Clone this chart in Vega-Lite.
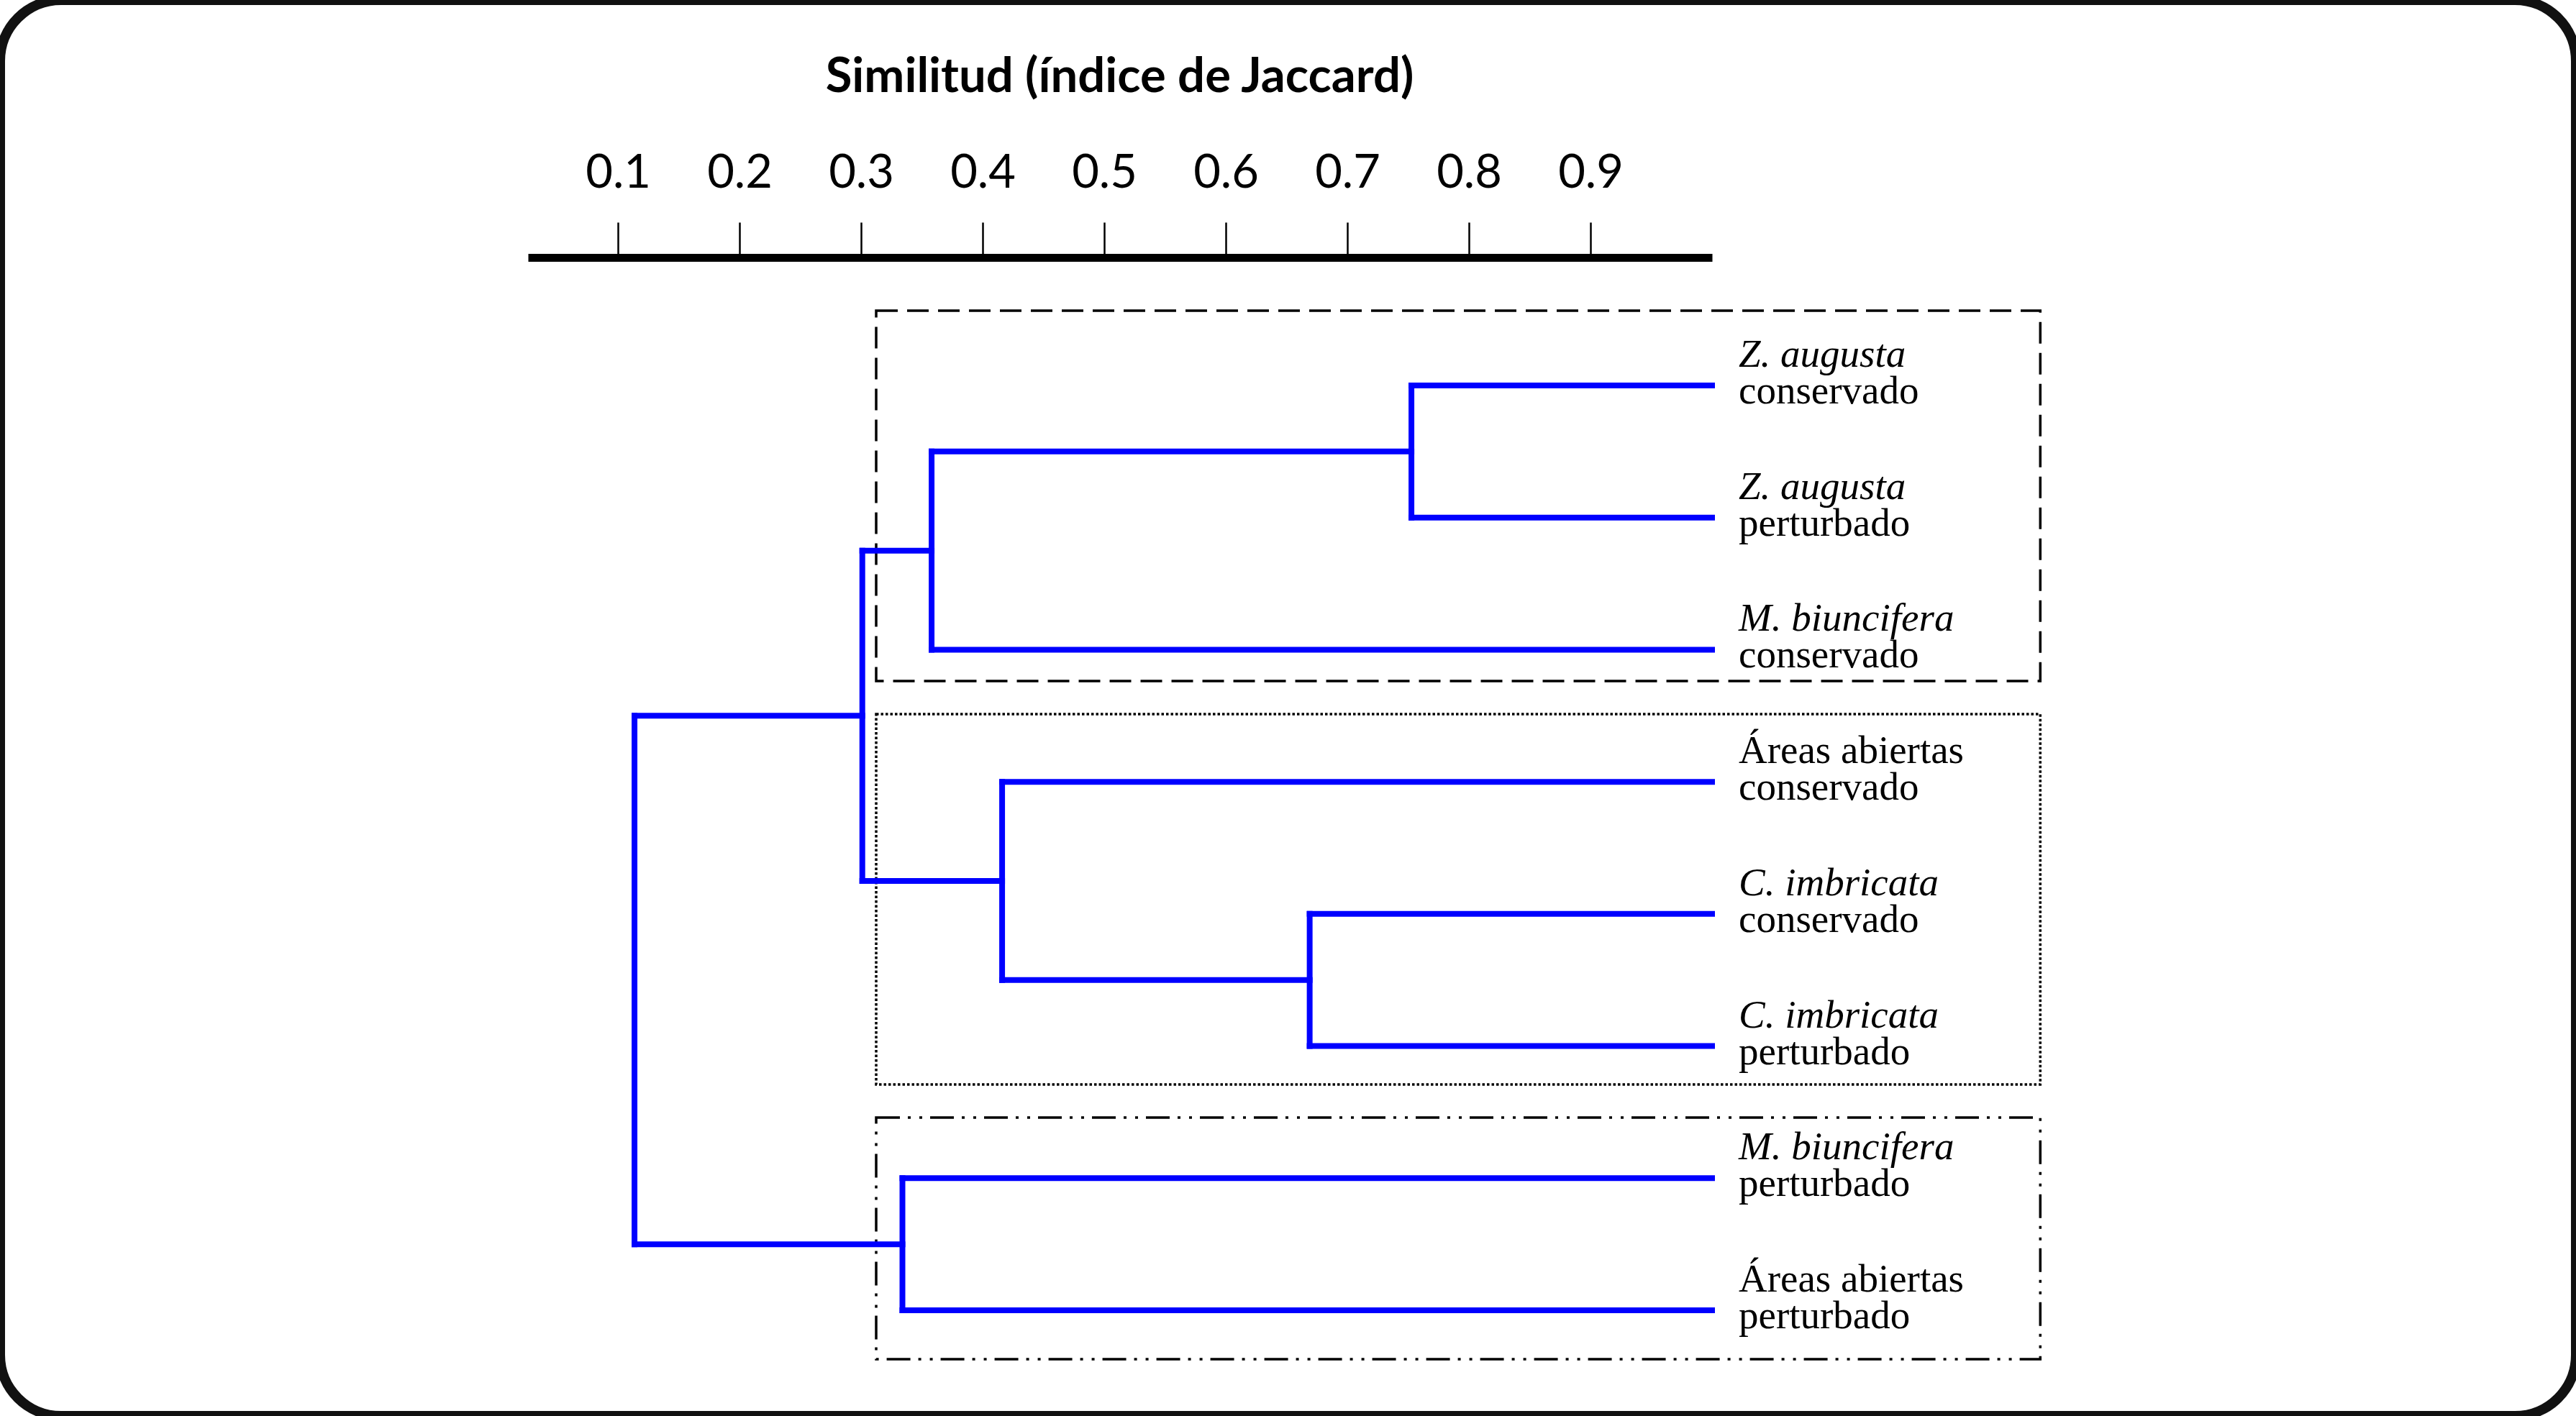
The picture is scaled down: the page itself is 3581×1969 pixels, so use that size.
{
  "$schema": "https://vega.github.io/schema/vega-lite/v6.json",
  "width": 3581,
  "height": 1969,
  "autosize": {"type": "none"},
  "padding": 0,
  "background": "white",
  "config": {
    "view": {"stroke": "#111111", "strokeWidth": 14, "cornerRadius": 85, "fill": "white"}
  },
  "datasets": {
    "segments": [
      {"node": "A", "x1": 0.7527, "x2": 1.0, "y1": 1, "y2": 1},
      {"node": "A", "x1": 0.7527, "x2": 1.0, "y1": 2, "y2": 2},
      {"node": "A", "x1": 0.7527, "x2": 0.7527, "y1": 1, "y2": 2},
      {"node": "B", "x1": 0.358, "x2": 0.7527, "y1": 1.5, "y2": 1.5},
      {"node": "B", "x1": 0.358, "x2": 1.0, "y1": 3, "y2": 3},
      {"node": "B", "x1": 0.358, "x2": 0.358, "y1": 1.5, "y2": 3},
      {"node": "C", "x1": 0.669, "x2": 1.0, "y1": 5, "y2": 5},
      {"node": "C", "x1": 0.669, "x2": 1.0, "y1": 6, "y2": 6},
      {"node": "C", "x1": 0.669, "x2": 0.669, "y1": 5, "y2": 6},
      {"node": "D", "x1": 0.416, "x2": 1.0, "y1": 4, "y2": 4},
      {"node": "D", "x1": 0.416, "x2": 0.669, "y1": 5.5, "y2": 5.5},
      {"node": "D", "x1": 0.416, "x2": 0.416, "y1": 4, "y2": 5.5},
      {"node": "E", "x1": 0.301, "x2": 0.358, "y1": 2.25, "y2": 2.25},
      {"node": "E", "x1": 0.301, "x2": 0.416, "y1": 4.75, "y2": 4.75},
      {"node": "E", "x1": 0.301, "x2": 0.301, "y1": 2.25, "y2": 4.75},
      {"node": "F", "x1": 0.334, "x2": 1.0, "y1": 7, "y2": 7},
      {"node": "F", "x1": 0.334, "x2": 1.0, "y1": 8, "y2": 8},
      {"node": "F", "x1": 0.334, "x2": 0.334, "y1": 7, "y2": 8},
      {"node": "R", "x1": 0.1136, "x2": 0.301, "y1": 3.5, "y2": 3.5},
      {"node": "R", "x1": 0.1136, "x2": 0.334, "y1": 7.5, "y2": 7.5},
      {"node": "R", "x1": 0.1136, "x2": 0.1136, "y1": 3.5, "y2": 7.5}
    ],
    "boxes": [
      {"grupo": "I", "x1": 0.3124, "x2": 1.27, "y1": 0.434, "y2": 3.237},
      {"grupo": "II", "x1": 0.3124, "x2": 1.27, "y1": 3.488, "y2": 6.291},
      {"grupo": "III", "x1": 0.3124, "x2": 1.27, "y1": 6.541, "y2": 8.37}
    ],
    "leaves": [
      {"x1": 1.0, "y1": 1, "taxon": "Z. augusta", "sitio": "conservado", "tipo": "especie"},
      {"x1": 1.0, "y1": 2, "taxon": "Z. augusta", "sitio": "perturbado", "tipo": "especie"},
      {"x1": 1.0, "y1": 3, "taxon": "M. biuncifera", "sitio": "conservado", "tipo": "especie"},
      {"x1": 1.0, "y1": 4, "taxon": "Áreas abiertas", "sitio": "conservado", "tipo": "area"},
      {"x1": 1.0, "y1": 5, "taxon": "C. imbricata", "sitio": "conservado", "tipo": "especie"},
      {"x1": 1.0, "y1": 6, "taxon": "C. imbricata", "sitio": "perturbado", "tipo": "especie"},
      {"x1": 1.0, "y1": 7, "taxon": "M. biuncifera", "sitio": "perturbado", "tipo": "especie"},
      {"x1": 1.0, "y1": 8, "taxon": "Áreas abiertas", "sitio": "perturbado", "tipo": "area"}
    ]
  },
  "encoding": {
    "x": {
      "field": "x1",
      "type": "quantitative",
      "scale": {"domain": [0.026, 1.0], "range": [734, 2380], "nice": false, "zero": false},
      "axis": {
        "orient": "top",
        "offset": -358,
        "values": [0.1, 0.2, 0.3, 0.4, 0.5, 0.6, 0.7, 0.8, 0.9],
        "format": ".1f",
        "grid": false,
        "domainWidth": 11,
        "domainColor": "black",
        "domainCap": "butt",
        "tickSize": 49,
        "tickWidth": 2.5,
        "tickColor": "black",
        "labelFont": "Lato",
        "labelFontSize": 65,
        "labelColor": "black",
        "labelBaseline": "alphabetic",
        "labelPadding": 49,
        "labelFlush": false,
        "labelOverlap": false,
        "title": "Similitud (índice de Jaccard)",
        "titleFont": "Lato",
        "titleFontSize": 67,
        "titleFontWeight": "bold",
        "titleColor": "black",
        "titleBaseline": "alphabetic",
        "titleAlign": "center",
        "titleX": 1556,
        "titleY": -231
      }
    },
    "y": {
      "field": "y1",
      "type": "quantitative",
      "scale": {"domain": [1, 8], "range": [536, 1822], "nice": false, "zero": false},
      "axis": null
    }
  },
  "layer": [
    {
      "data": {"name": "boxes"},
      "transform": [{"filter": "datum.grupo === 'I'"}],
      "mark": {"type": "rect", "fillOpacity": 0, "stroke": "black", "strokeWidth": 3.5, "strokeDash": [30, 13]},
      "encoding": {"x2": {"field": "x2"}, "y2": {"field": "y2"}}
    },
    {
      "data": {"name": "boxes"},
      "transform": [{"filter": "datum.grupo === 'II'"}],
      "mark": {"type": "rect", "fillOpacity": 0, "stroke": "black", "strokeWidth": 3.5, "strokeDash": [3.5, 3]},
      "encoding": {"x2": {"field": "x2"}, "y2": {"field": "y2"}}
    },
    {
      "data": {"name": "boxes"},
      "transform": [{"filter": "datum.grupo === 'III'"}],
      "mark": {"type": "rect", "fillOpacity": 0, "stroke": "black", "strokeWidth": 3.5, "strokeDash": [33, 11, 4, 12, 4, 11]},
      "encoding": {"x2": {"field": "x2"}, "y2": {"field": "y2"}}
    },
    {
      "data": {"name": "segments"},
      "mark": {"type": "rule", "color": "#0000FF", "strokeWidth": 8, "strokeCap": "square"},
      "encoding": {
        "x2": {"field": "x2"},
        "y2": {"field": "y2"}
      }
    },
    {
      "data": {"name": "leaves"},
      "transform": [{"filter": "datum.tipo === 'especie'"}],
      "mark": {"type": "text", "font": "Liberation Serif", "fontSize": 55, "fontStyle": "italic", "align": "left", "baseline": "alphabetic", "dx": 37, "dy": -26, "color": "black"},
      "encoding": {"text": {"field": "taxon"}}
    },
    {
      "data": {"name": "leaves"},
      "transform": [{"filter": "datum.tipo === 'area'"}],
      "mark": {"type": "text", "font": "Liberation Serif", "fontSize": 55, "align": "left", "baseline": "alphabetic", "dx": 37, "dy": -26, "color": "black"},
      "encoding": {"text": {"field": "taxon"}}
    },
    {
      "data": {"name": "leaves"},
      "mark": {"type": "text", "font": "Liberation Serif", "fontSize": 55, "align": "left", "baseline": "alphabetic", "dx": 37, "dy": 25, "color": "black"},
      "encoding": {"text": {"field": "sitio"}}
    }
  ]
}
